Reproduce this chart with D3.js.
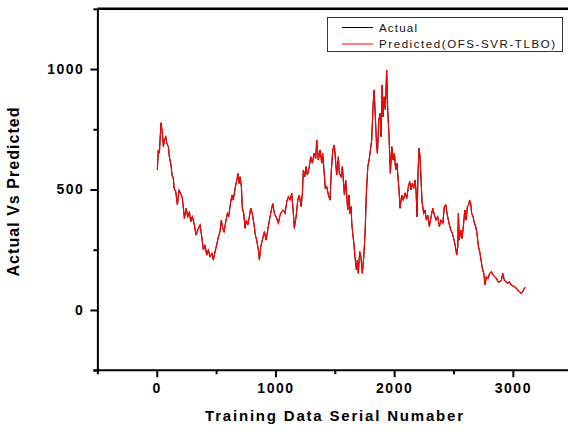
<!DOCTYPE html>
<html>
<head>
<meta charset="utf-8">
<script src="https://cdn.jsdelivr.net/npm/d3@7"></script>
<style>
body { margin: 0; background: #fff; }
svg text { font-family: "Liberation Sans", Arial, sans-serif; }
</style>
</head>
<body>
<div id="actualvspred-chart"></div>
<script>
// values (serial number, value)
var serial = [
    5,13,22,36,47,56,64,76,84,98,106,120,129,140,146,160,174,188,202,216,
    233,247,261,275,286,300,317,331,345,365,379,393,407,421,435,449,466,477,491,505,
    519,533,544,556,567,581,595,606,623,634,645,660,674,685,693,702,713,721,733,744,
    755,767,778,792,805,820,831,842,856,865,876,893,907,921,935,949,963,977,991,1011,
    1024,1039,1053,1067,1081,1095,1109,1123,1137,1151,1159,1174,1188,1201,1216,1227,1235,1247,1258,1269,
    1283,1297,1311,1325,1339,1348,1361,1376,1390,1398,1409,1420,1432,1446,1460,1471,1483,1496,1508,1516,
    1530,1538,1553,1564,1572,1581,1592,1601,1609,1620,1628,1637,1643,1651,1662,1670,1682,1690,1698,1710,
    1720,1732,1744,1755,1766,1778,1789,1800,1811,1822,1831,1839,1851,1859,1871,1882,1890,1899,1907,1916,
    1926,1937,1946,1957,1968,1980,1991,2002,2013,2024,2030,2041,2050,2064,2077,2092,2106,2120,2131,2142,
    2153,2165,2176,2184,2193,2201,2210,2218,2227,2235,2249,2260,2271,2283,2297,2311,2325,2339,2353,2367,
    2381,2395,2410,2423,2435,2448,2462,2477,2490,2505,2516,2527,2536,2541,2549,2561,2572,2583,2595,2606,
    2617,2628,2636,2645,2653,2665,2676,2687,2698,2710,2721,2732,2743,2755,2766,2777,2791,2805,2819,2833,
    2848,2861,2875,2890,2903,2915,2928,2943,2957,2971,2985,2999,3013,3027,3041,3055,3069,3083,3097,3105
];
var actual = [
    581,664,651,777,734,678,705,719,693,678,636,602,560,547,506,491,436,498,484,463,
    380,422,387,408,366,387,353,311,332,353,304,249,270,228,249,221,235,207,242,270,
    304,325,373,339,325,366,401,387,449,477,456,505,539,567,525,553,512,422,401,339,
    373,353,380,422,401,353,311,290,249,207,263,297,325,290,332,373,408,442,401,380,
    360,394,408,415,401,449,470,456,484,401,339,387,456,477,429,484,581,553,595,560,
    588,636,609,650,629,705,622,664,609,650,581,505,512,477,456,581,664,685,609,560,
    636,567,553,595,539,477,539,470,415,477,401,429,360,318,270,221,166,207,152,242,
    221,152,221,318,484,595,622,664,705,844,913,830,692,650,788,816,719,934,802,885,
    830,996,830,719,567,678,622,650,581,609,567,498,422,477,456,484,463,512,533,498,
    525,505,539,498,387,567,671,636,539,449,401,415,373,394,346,387,422,394,373,387,
    346,373,360,429,436,394,360,332,318,290,263,228,263,401,290,332,297,346,415,373,
    429,436,456,442,401,387,360,346,318,263,242,207,173,152,104,138,131,152,159,145,
    138,131,117,117,124,152,124,117,110,117,104,100,97,90,83,76,69,76,90,94
];
// predicted curve sits right on top of the actual one in the picture
var predicted = actual.slice();

var seriesNames = ["Actual", "Predicted(OFS-SVR-TLBO)"];
var seriesColors = ["#000000", "#ff0000"];

var xMajorTicks = [0, 1000, 2000, 3000];
var xMinorTicks = [-500, 500, 1500, 2500, 3500];
var yMajorTicks = [0, 500, 1000];
var yMinorTicks = [-250, 250, 750, 1250];

function actualVsPredicted()
{
    var width = 568, height = 433;

    var x = d3.scaleLinear().domain([-500, 3500]).range([97.4, 572.2]),
        y = d3.scaleLinear().domain([-250, 1250]).range([370.2, 8.8]);

    var svg = d3.select("#actualvspred-chart").append("svg")
        .attr("width", width)
        .attr("height", height);

    var line = d3.line()
        .x((d) => x(d[0]))
        .y((d) => y(d[1]));

    // series
    svg.append("path")
        .datum(d3.zip(serial, actual))
        .attr("d", line)
        .attr("fill", "none")
        .attr("stroke", seriesColors[0])
        .attr("stroke-width", 1);

    svg.append("path")
        .datum(d3.zip(serial, predicted))
        .attr("d", line)
        .attr("fill", "none")
        .attr("stroke", seriesColors[1])
        .attr("stroke-width", 1.2)
        .attr("stroke-linejoin", "miter");

    // top border
    svg.append("line")
        .attr("x1", x(-500)).attr("x2", x(3500))
        .attr("y1", y(1250)).attr("y2", y(1250))
        .attr("stroke", "#000").attr("stroke-width", 2.5);

    // minor ticks
    svg.append("g")
        .attr("transform", "translate(" + x(-500) + ",0)")
        .call(d3.axisLeft(y).tickValues(yMinorTicks).tickSize(4).tickSizeOuter(0).tickFormat(""))
        .call((g) => g.select(".domain").remove());
    svg.append("g")
        .attr("transform", "translate(0," + y(-250) + ")")
        .call(d3.axisBottom(x).tickValues(xMinorTicks).tickSize(4).tickSizeOuter(0).tickFormat(""))
        .call((g) => g.select(".domain").remove());

    // major axes
    var yAxis = svg.append("g")
        .attr("transform", "translate(" + x(-500) + ",0)")
        .call(d3.axisLeft(y).tickValues(yMajorTicks).tickFormat(d3.format("d"))
            .tickSize(7).tickSizeOuter(0).tickPadding(6));
    var xAxis = svg.append("g")
        .attr("transform", "translate(0," + y(-250) + ")")
        .call(d3.axisBottom(x).tickValues(xMajorTicks).tickFormat(d3.format("d"))
            .tickSize(7).tickSizeOuter(0).tickPadding(6));

    svg.selectAll(".tick line").attr("stroke", "#000").attr("stroke-width", 2);
    yAxis.select(".domain").attr("stroke", "#000").attr("stroke-width", 2);
    xAxis.select(".domain").attr("stroke", "#000").attr("stroke-width", 2)
        .attr("d", "M" + (x(-500) - 4) + ",0H" + x(3500));

    svg.selectAll(".tick text")
        .attr("fill", "#000")
        .style("font-family", "'Liberation Sans', Arial, sans-serif")
        .style("font-size", "14px")
        .style("font-weight", "bold")
        .style("letter-spacing", "1.5px");

    // axis titles
    svg.append("text")
        .attr("transform", "translate(19,192) rotate(-90)")
        .attr("text-anchor", "middle")
        .attr("textLength", 169)
        .style("font-size", "16px")
        .style("font-weight", "bold")
        .text("Actual Vs Predicted");

    svg.append("text")
        .attr("x", 334)
        .attr("y", 421)
        .attr("text-anchor", "middle")
        .attr("textLength", 258)
        .style("font-size", "15px")
        .style("font-weight", "bold")
        .text("Training Data Serial Numaber");

    // legend
    var legend = svg.append("g");
    legend.append("rect")
        .attr("x", 327.5).attr("y", 17.5)
        .attr("width", 235).attr("height", 34)
        .attr("fill", "#fff")
        .attr("stroke", "#333")
        .attr("stroke-width", 1);

    var legendLengths = [38, 176];
    seriesNames.forEach(function (name, i) {
        var ly = 27.5 + i * 16.5;
        legend.append("line")
            .attr("x1", 342).attr("x2", 373)
            .attr("y1", ly).attr("y2", ly)
            .attr("stroke", seriesColors[i])
            .attr("stroke-width", 1);
        legend.append("text")
            .attr("x", 379)
            .attr("y", ly + 4)
            .attr("textLength", legendLengths[i])
            .style("font-size", "11.5px")
            .attr("fill", "#111")
            .text(name);
    });
}

actualVsPredicted();
</script>
</body>
</html>
